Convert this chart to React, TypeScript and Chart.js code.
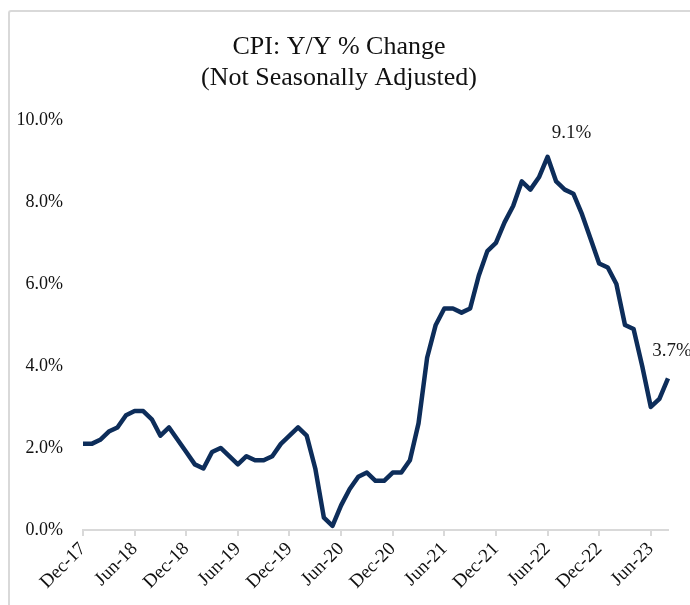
import React, { useEffect, useRef } from 'react';
import { Chart, registerables } from 'chart.js';

Chart.register(...registerables);

const months = [
  'Dec-17',
  'Jan-18', 'Feb-18', 'Mar-18', 'Apr-18', 'May-18', 'Jun-18', 'Jul-18', 'Aug-18', 'Sep-18', 'Oct-18', 'Nov-18', 'Dec-18',
  'Jan-19', 'Feb-19', 'Mar-19', 'Apr-19', 'May-19', 'Jun-19', 'Jul-19', 'Aug-19', 'Sep-19', 'Oct-19', 'Nov-19', 'Dec-19',
  'Jan-20', 'Feb-20', 'Mar-20', 'Apr-20', 'May-20', 'Jun-20', 'Jul-20', 'Aug-20', 'Sep-20', 'Oct-20', 'Nov-20', 'Dec-20',
  'Jan-21', 'Feb-21', 'Mar-21', 'Apr-21', 'May-21', 'Jun-21', 'Jul-21', 'Aug-21', 'Sep-21', 'Oct-21', 'Nov-21', 'Dec-21',
  'Jan-22', 'Feb-22', 'Mar-22', 'Apr-22', 'May-22', 'Jun-22', 'Jul-22', 'Aug-22', 'Sep-22', 'Oct-22', 'Nov-22', 'Dec-22',
  'Jan-23', 'Feb-23', 'Mar-23', 'Apr-23', 'May-23', 'Jun-23', 'Jul-23', 'Aug-23',
];

const cpiYoY = [
  2.1,
  2.1, 2.2, 2.4, 2.5, 2.8, 2.9, 2.9, 2.7, 2.3, 2.5, 2.2, 1.9,
  1.6, 1.5, 1.9, 2.0, 1.8, 1.6, 1.8, 1.7, 1.7, 1.8, 2.1, 2.3,
  2.5, 2.3, 1.5, 0.3, 0.1, 0.6, 1.0, 1.3, 1.4, 1.2, 1.2, 1.4,
  1.4, 1.7, 2.6, 4.2, 5.0, 5.4, 5.4, 5.3, 5.4, 6.2, 6.8, 7.0,
  7.5, 7.9, 8.5, 8.3, 8.6, 9.1, 8.5, 8.3, 8.2, 7.7, 7.1, 6.5,
  6.4, 6.0, 5.0, 4.9, 4.0, 3.0, 3.2, 3.7,
];

const yTicks = [0, 2, 4, 6, 8, 10];
const tickEvery = 6;
const calloutIndexes = [cpiYoY.indexOf(Math.max(...cpiYoY)), cpiYoY.length - 1];

const FONT = "'Liberation Serif', serif";
const LINE = '#0d2d5a';
const GRAY = '#d9d9d9';

const calloutPlugin = {
  id: 'callouts',
  afterDatasetsDraw(chart: any) {
    const ctx = chart.ctx;
    const meta = chart.getDatasetMeta(0);
    const offsets = [
      { dx: 24, dy: -24 },
      { dx: 4, dy: -27 },
    ];
    ctx.save();
    ctx.font = `19px ${FONT}`;
    ctx.fillStyle = '#1a1a1a';
    ctx.textAlign = 'center';
    ctx.textBaseline = 'middle';
    calloutIndexes.forEach((idx, i) => {
      const el = meta.data[idx];
      if (!el) return;
      ctx.fillText(cpiYoY[idx].toFixed(1) + '%', el.x + offsets[i].dx, el.y + offsets[i].dy);
    });
    ctx.restore();
  },
};

export default function App() {
  const ref = useRef<HTMLCanvasElement>(null);

  useEffect(() => {
    if (!ref.current) return;
    const chart = new Chart(ref.current, {
      type: 'line',
      data: {
        labels: months,
        datasets: [
          {
            data: cpiYoY,
            borderColor: LINE,
            borderWidth: 4.5,
            pointRadius: 0,
            tension: 0,
            borderJoinStyle: 'round',
            borderCapStyle: 'butt',
            fill: false,
          },
        ],
      },
      options: {
        animation: false,
        responsive: false,
        maintainAspectRatio: false,
        layout: { padding: { left: 0, right: 22, top: 0, bottom: 0 } },
        plugins: {
          legend: { display: false },
          tooltip: { enabled: false },
          title: {
            display: true,
            text: ['CPI: Y/Y % Change', '(Not Seasonally Adjusted)'],
            color: '#111',
            font: { family: FONT, size: 26, weight: 'normal', lineHeight: 1.19 },
            padding: { top: 20, bottom: 26 },
          },
        },
        scales: {
          x: {
            type: 'category',
            offset: false,
            grid: {
              display: true,
              drawOnChartArea: false,
              drawTicks: true,
              tickLength: 6,
              lineWidth: 2,
              color: (c: any) => (c.index % tickEvery === 0 ? GRAY : 'rgba(0,0,0,0)'),
            },
            border: { display: true, color: GRAY, width: 2 },
            ticks: {
              autoSkip: false,
              maxRotation: 45,
              minRotation: 45,
              padding: 2,
              color: '#111',
              font: { family: FONT, size: 19 },
              callback: (v: any, i: number) => (i % tickEvery === 0 ? months[i] : ''),
            },
            afterFit: (s: any) => {
              s.height = 75;
            },
          },
          y: {
            min: 0,
            max: 10,
            afterBuildTicks: (s: any) => {
              s.ticks = yTicks.map((v) => ({ value: v }));
            },
            grid: { display: false },
            border: { display: false },
            ticks: {
              padding: 12,
              color: '#111',
              font: { family: FONT, size: 18 },
              callback: (v: any) => Number(v).toFixed(1) + '%',
            },
            afterFit: (s: any) => {
              s.width = 73;
            },
          },
        },
      },
      plugins: [calloutPlugin],
    });
    return () => chart.destroy();
  }, []);

  return (
    <div
      style={{
        position: 'fixed',
        left: 8,
        top: 10,
        width: 680,
        height: 593,
        borderTop: `2px solid ${GRAY}`,
        borderLeft: `2px solid ${GRAY}`,
        borderTopLeftRadius: 3,
        background: '#fff',
      }}
    >
      <canvas ref={ref} width={680} height={593} style={{ display: 'block' }} />
    </div>
  );
}
